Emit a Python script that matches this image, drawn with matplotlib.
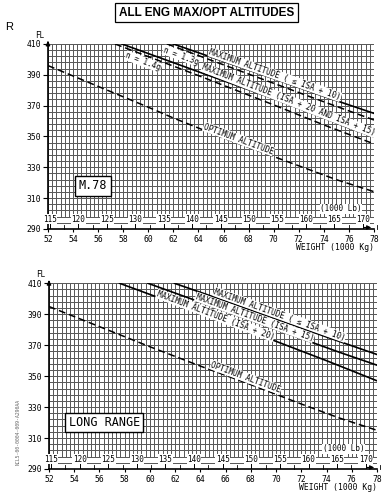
"""
All-engine maximum / optimum altitude charts (M.78 and long range).

Two stacked panels of flight level against gross weight, drawn on a
fine engineering grid with a secondary 1000 lb weight scale.
"""

import numpy as np
import matplotlib.pyplot as plt

MONO = "DejaVu Sans Mono"

# Axis scales
kg_ticks = [52, 54, 56, 58, 60, 62, 64, 66, 68, 70, 72, 74, 76, 78]
fl_ticks = [290, 310, 330, 350, 370, 390, 410]
lb_ticks = [115, 120, 125, 130, 135, 140, 145, 150, 155, 160, 165, 170]

# M.78 panel (weight in 1000 kg, flight level)
m78_isa10_kg = [62.0, 66, 70, 74, 78]
m78_isa10_fl = [410, 398.7, 387.5, 376, 365]
m78_buf13_kg = [61.5, 66, 70, 74, 78]
m78_buf13_fl = [410, 396.5, 384.5, 372.5, 360.7]
m78_isa20_kg = [57.9, 64, 70, 74, 76, 78]
m78_isa20_fl = [410, 392, 374.5, 362, 355.5, 349.7]
m78_buf14_kg = [57.35, 64, 70, 74, 78]
m78_buf14_fl = [410, 389.5, 370.5, 357.5, 345.2]
m78_opt_kg = [52, 56, 60, 62, 66, 70, 72, 75, 78]
m78_opt_fl = [396, 382.5, 369, 362, 349, 337, 331, 322, 314.2]

# Long range panel
lr_isa10_kg = [61.95, 66, 70, 74, 78]
lr_isa10_fl = [410, 398.5, 387, 375.3, 364]
lr_isa15_kg = [59.85, 64, 68, 72, 75, 78]
lr_isa15_fl = [410, 397.8, 386, 374.3, 365.5, 357.1]
lr_isa20_kg = [57.6, 62, 66, 70, 74, 76, 78]
lr_isa20_fl = [410, 396.8, 384.5, 372.5, 360, 353.5, 347]
lr_opt_kg = [52, 56, 60, 64, 68, 72, 75, 78]
lr_opt_fl = [395, 382, 369, 356.5, 344.5, 332, 323, 315]

KG_PER_KLB = 0.45359237


def line_label(ax, xs, ys, x0, text, offset):
    """Write a label along a curve, rotated to its local slope."""
    y0 = np.interp(x0, xs, ys)
    p1 = ax.transData.transform((x0 - 0.5, np.interp(x0 - 0.5, xs, ys)))
    p2 = ax.transData.transform((x0 + 0.5, np.interp(x0 + 0.5, xs, ys)))
    angle = np.degrees(np.arctan2(p2[1] - p1[1], p2[0] - p1[0]))
    ax.text(x0, y0 + offset, text, family=MONO, fontsize=5.5,
            rotation=angle, rotation_mode="anchor", ha="center", va="center",
            bbox=dict(fc="white", ec="none", pad=0.3), zorder=5)


def setup_panel(ax, box_text, box_x, box_y):
    """Grid, axes, lb scale and decorations common to both panels."""
    ax.set_xlim(52, 78)
    ax.set_ylim(290, 410)

    # fine grid: 1/3 t columns, 4 FL rows, blank strip for the lb scale
    grid = dict(color="#5a5a5a", lw=0.5, zorder=1, antialiased=False)
    for x in np.linspace(52, 78, 79):
        ax.plot([x, x], [298, 410], **grid)
    for y in np.arange(294, 411, 4):
        ax.plot([52, 78], [y, y], **grid)
    ax.plot([78, 78], [290, 410], **grid)

    # secondary scale in 1000 lb
    for lb in lb_ticks:
        x = lb * KG_PER_KLB
        ax.plot([x, x], [290, 294], color="black", lw=0.7, zorder=2)
        ax.plot([x + 2.5 * KG_PER_KLB] * 2, [290, 292.3], color="black",
                lw=0.6, zorder=2, clip_on=False)
        ax.text(x, 296.3, str(lb), family=MONO, fontsize=5.5, ha="center",
                va="center", bbox=dict(fc="white", ec="none", pad=0.3),
                zorder=4)
    ax.text(75.35, 303, "(1000 Lb)", family=MONO, fontsize=5.5, ha="center",
            va="center", bbox=dict(fc="white", ec="none", pad=0.3), zorder=4)

    for side in ["top", "right"]:
        ax.spines[side].set_visible(False)
    for side in ["left", "bottom"]:
        ax.spines[side].set_linewidth(1.2)

    ax.set_xticks(kg_ticks)
    ax.set_yticks(fl_ticks)
    ax.tick_params(axis="x", length=2.5, width=0.8, pad=1.5, labelsize=5.8)
    ax.tick_params(axis="y", length=3.5, width=0.8, pad=1.2, labelsize=5.8)
    for lab in ax.get_xticklabels() + ax.get_yticklabels():
        lab.set_family(MONO)

    # axis arrows
    ax.annotate("", xy=(52, 413.8), xytext=(52, 409),
                arrowprops=dict(arrowstyle="-|>", color="black", lw=1.0,
                                mutation_scale=6), annotation_clip=False)
    ax.annotate("", xy=(78.0, 291), xytext=(77.0, 291),
                arrowprops=dict(arrowstyle="-|>", color="black", lw=0.8,
                                mutation_scale=6), annotation_clip=False,
                zorder=6)

    ax.text(51.75, 412.5, "FL", family=MONO, fontsize=5.5, ha="right",
            va="bottom", clip_on=False)
    ax.text(78.0, 278, "WEIGHT (1000 Kg)", family=MONO, fontsize=5.8,
            ha="right", va="center", clip_on=False)

    ax.text(box_x, box_y, box_text, family=MONO, fontsize=8.5, ha="left",
            va="center", zorder=6,
            bbox=dict(fc="white", ec="black", lw=1.0, pad=2.5))


fig = plt.figure(figsize=(3.9, 5), dpi=100)
ax1 = fig.add_axes([0.123, 0.542, 0.836, 0.370])
ax2 = fig.add_axes([0.1256, 0.062, 0.841, 0.3714])

solid = dict(color="black", lw=1.2, zorder=3)
dashed = dict(color="black", lw=1.1, ls=(0, (4.5, 2.5)), zorder=3)

# --- M.78 ---
setup_panel(ax1, "M.78", 54.45, 318)
ax1.plot(m78_isa10_kg, m78_isa10_fl, **solid)
ax1.plot(m78_buf13_kg, m78_buf13_fl, **dashed)
ax1.plot(m78_isa20_kg, m78_isa20_fl, **solid)
ax1.plot(m78_buf14_kg, m78_buf14_fl, **dashed)
ax1.plot(m78_opt_kg, m78_opt_fl, **dashed)
line_label(ax1, m78_isa10_kg, m78_isa10_fl, 70.1,
           "MAXIMUM ALTITUDE ( \u2264 ISA + 10)", 3.0)
line_label(ax1, m78_isa20_kg, m78_isa20_fl, 71.2,
           "MAXIMUM ALTITUDE (ISA + 20 AND ISA + 15)", 2.8)
line_label(ax1, m78_buf13_kg, m78_buf13_fl, 62.6, "n = 1.3g", -4.3)
line_label(ax1, m78_buf14_kg, m78_buf14_fl, 59.6, "n = 1.4g", -4.5)
line_label(ax1, m78_opt_kg, m78_opt_fl, 67.2, "OPTIMUM ALTITUDE", 3.0)

# --- Long range ---
setup_panel(ax2, "LONG RANGE", 53.55, 320)
ax2.plot(lr_isa10_kg, lr_isa10_fl, **solid)
ax2.plot(lr_isa15_kg, lr_isa15_fl, **solid)
ax2.plot(lr_isa20_kg, lr_isa20_fl, **solid)
ax2.plot(lr_opt_kg, lr_opt_fl, **dashed)
line_label(ax2, lr_isa10_kg, lr_isa10_fl, 70.3,
           "MAXIMUM ALTITUDE ( \u2264 ISA + 10)", 3.6)
line_label(ax2, lr_isa15_kg, lr_isa15_fl, 68.3,
           "MAXIMUM ALTITUDE (ISA + 15)", 2.8)
line_label(ax2, lr_isa20_kg, lr_isa20_fl, 65.2,
           "MAXIMUM ALTITUDE (ISA + 20)", 2.3)
line_label(ax2, lr_opt_kg, lr_opt_fl, 67.6, "OPTIMUM ALTITUDE", 3.6)

# page furniture
fig.text(0.5295, 0.975, "ALL ENG MAX/OPT ALTITUDES", family="Liberation Sans",
         weight="bold", fontsize=8.5, ha="center", va="center",
         bbox=dict(fc="white", ec="black", lw=0.9, pad=2.5))
fig.text(0.023, 0.946, "R", family="Liberation Sans", fontsize=8,
         ha="center", va="center")
fig.text(0.046, 0.136, "NCL5-00-0004-009-A290AA", family=MONO, fontsize=3.5,
         color="#666666", rotation=90, ha="center", va="center")

fig.savefig("out.png", dpi=100)
